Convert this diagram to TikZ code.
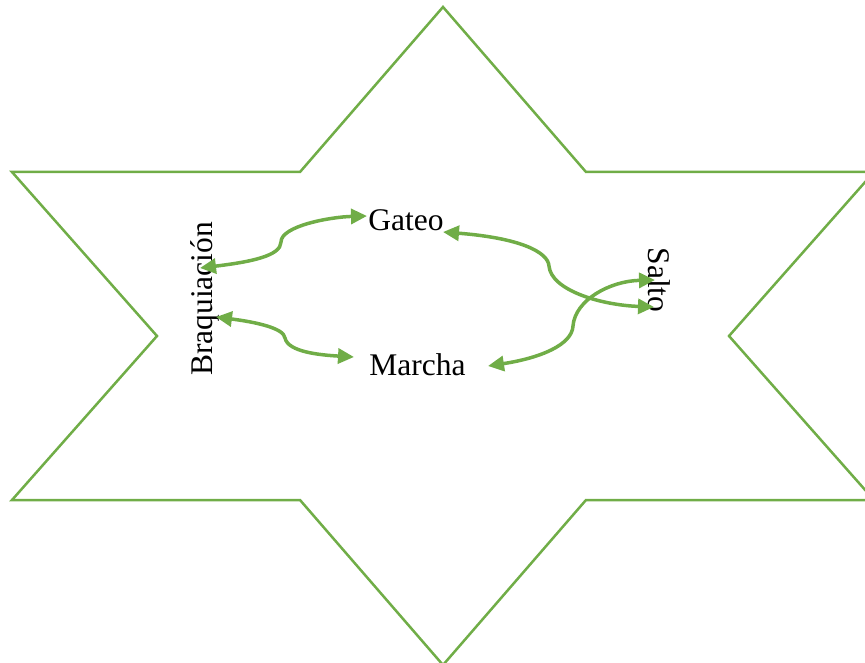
\documentclass[tikz,border=0pt]{standalone}
\usepackage{fontspec}
\setmainfont{Liberation Serif}
\usetikzlibrary{arrows.meta}
\definecolor{stargreen}{HTML}{70AD47}
\tikzset{
  starline/.style={draw=stargreen, line width=2.5pt, line join=miter},
  conn/.style={draw=stargreen, line width=3.5pt, {Triangle[length=16pt,width=15pt]}-{Triangle[length=16pt,width=15pt]}},
  lbl/.style={inner sep=0pt, font=\fontsize{31.5}{36}\selectfont, anchor=base}
}
\begin{document}
\begin{tikzpicture}[x=1pt,y=-1pt]
\useasboundingbox (0,0) rectangle (865,663);
\begin{scope}
\clip (0,0) rectangle (865,663);
\draw[starline] (443,7) -- (300,172) -- (12,172) -- (157,336) -- (12,500) -- (300,500) -- (443,665) -- (586,500) -- (874,500) -- (729,336) -- (874,172) -- (586,172) -- cycle;
\end{scope}
\node[lbl] (gateo) at (406,231) {Gateo};
\node[lbl] (marcha) at (417.5,375) {Marcha};
\node[lbl, rotate=90] (braq) at (212,299) {Braquiación};
\node[lbl, rotate=-90] (salto) at (648,280) {Salto};
\coordinate (b1) at (200,268);
\coordinate (g1) at (367,216);
\coordinate (b2) at (216,317);
\coordinate (m2) at (354,357);
\coordinate (g3) at (443,232);
\coordinate (s3) at (654,307);
\coordinate (m4) at (488,366);
\coordinate (s4) at (655,280);
\draw[conn] (b1) .. controls (250,262) and (281,256) .. (281,242) .. controls (281,226) and (330,217) .. (g1);
\draw[conn] (b2) .. controls (255,322) and (284,328) .. (285,338) .. controls (288,352) and (320,355) .. (m2);
\draw[conn] (g3) .. controls (520,238) and (548,252) .. (549,266) .. controls (551,290) and (600,305) .. (s3);
\draw[conn] (m4) .. controls (540,358) and (572,345) .. (573,326) .. controls (575,300) and (610,281) .. (s4);
\end{tikzpicture}
\end{document}
